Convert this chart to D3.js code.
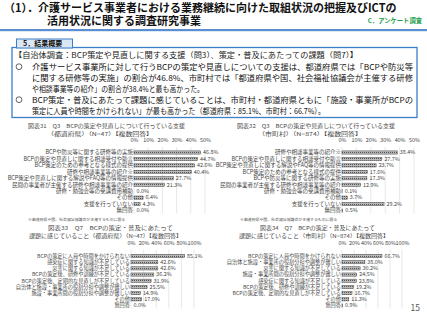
<!DOCTYPE html>
<html>
<head>
<meta charset="utf-8">
<script src="https://cdn.jsdelivr.net/npm/d3@7"></script>
<style>
  html, body { margin: 0; padding: 0; background: #fff; }
  svg { display: block; font-family: "Noto Sans CJK JP", "Noto Sans", sans-serif; }
</style>
</head>
<body>
<svg id="slide" width="427" height="320"></svg>
<script>
// Q3 support given (prefectures, N=47)
var q3PrefCats = [
  "BCPや防災等に関する研修等の実施",
  "BCPの策定や見直しに関する相談受付や助言",
  "BCP策定のための参考となる様式の提供",
  "研修や相談事業等の紹介※",
  "BCP策定や見直しに関する解説やFAQ等の情報提供",
  "民間の事業者が主催する研修や相談事業等の紹介",
  "研修・勉強会等の受講費用補助",
  "その他",
  "支援を行っていない",
  "無回答"
];
var q3PrefVals = [46.8, 44.7, 42.6, 40.4, 27.7, 21.3, 0.0, 6.4, 4.3, 0.0];

// Q3 support given (municipalities, N=874)
var q3CityCats = [
  "研修や相談事業等の紹介※",
  "BCPの策定や見直しに関する相談受付や助言",
  "BCP策定や見直しに関する解説やFAQ等の情報提供",
  "BCP策定のための参考となる様式の提供",
  "BCPや防災等に関する研修等の実施",
  "民間の事業者が主催する研修や相談事業等の紹介",
  "研修・勉強会等の受講費用補助",
  "その他",
  "支援を行っていない",
  "無回答"
];
var q3CityVals = [38.4, 27.7, 23.7, 17.6, 17.3, 12.9, 0.1, 3.7, 29.2, 0.5];

// Q7 issues (prefectures, N=47)
var q7PrefCats = [
  "BCPの策定に人員や時間をかけられない",
  "感染症に関する知識が不足している",
  "災害に関する知識が不足している",
  "BCPの策定後、研修や訓練が不足している",
  "BCPの策定後、定期的な見直しが不足している",
  "自治体と施設・事業所の役割分担や調整が難しい",
  "施設・事業所間の役割分担や調整が難しい",
  "その他",
  "無回答"
];
var q7PrefVals = [85.1, 42.6, 42.6, 36.2, 31.9, 25.5, 14.9, 17.0, 0.0];

// Q7 issues (municipalities, N=874)
var q7CityCats = [
  "BCPの策定に人員や時間をかけられない",
  "自治体と施設・事業所の役割分担や調整が難しい",
  "災害に関する知識が不足している",
  "施設・事業所間の役割分担や調整が難しい",
  "感染症に関する知識が不足している",
  "BCPの策定後、研修や訓練が不足している",
  "BCPの策定後、定期的な見直しが不足している",
  "その他",
  "無回答"
];
var q7CityVals = [66.7, 38.0, 30.2, 24.5, 23.8, 19.2, 16.7, 11.3, 0.9];

var q3Ticks = [0, 10, 20, 30, 40, 50];
var q7Ticks = [0, 20, 40, 60, 80, 100];

var summaryLines = [
  "介護サービス事業所に対して行うBCPの策定や見直しについての支援は、都道府県では「BCPや防災等",
  "に関する研修等の実施」の割合が46.8%、市町村では「都道府県や国、社会福祉協議会が主催する研修",
  "や相談事業等の紹介」の割合が38.4%と最も高かった。",
  "BCP策定・普及にあたって課題に感じていることは、市町村・都道府県ともに「施設・事業所がBCPの",
  "策定に人員や時間をかけられない」が最も高かった（都道府県：85.1%、市町村：66.7%）。"
];

(function () {
  'use strict';
  var svg = d3.select('#slide');

  // header
  svg.append('text').attr('x', 4).attr('y', 12)
    .attr('font-size', 11).attr('font-weight', 'bold').attr('fill', '#111')
    .text('（1）．介護サービス事業者における業務継続に向けた取組状況の把握及びICTの');
  svg.append('text').attr('x', 47).attr('y', 24.5)
    .attr('font-size', 11).attr('font-weight', 'bold').attr('fill', '#111')
    .text('活用状況に関する調査研究事業');
  svg.append('text').attr('x', 422).attr('y', 23).attr('text-anchor', 'end')
    .attr('font-size', 6.3).attr('font-weight', 'bold').attr('fill', '#1e9e4a')
    .text('C．アンケート調査');
  svg.append('rect').attr('x', 0).attr('y', 29).attr('width', 427).attr('height', 2.2)
    .attr('fill', '#5b8fd0');

  // summary box
  svg.append('rect').attr('x', 12).attr('y', 47.5).attr('width', 405).attr('height', 70)
    .attr('fill', '#fff').attr('stroke', '#3a7fc8').attr('stroke-width', 1.3);
  svg.append('rect').attr('x', 16.5).attr('y', 39).attr('width', 56).attr('height', 9)
    .attr('fill', '#dbe6f4').attr('stroke', '#3a7fc8').attr('stroke-width', 1);
  svg.append('text').attr('x', 23).attr('y', 46.3)
    .attr('font-size', 7).attr('font-weight', 'bold').attr('fill', '#111')
    .text('5．結果概要');

  svg.append('text').attr('x', 14).attr('y', 57.5)
    .attr('font-size', 7.6).attr('fill', '#222')
    .attr('textLength', 344).attr('lengthAdjust', 'spacingAndGlyphs')
    .text('【自治体調査：BCP策定や見直しに関する支援（問3）、策定・普及にあたっての課題（問7）】');

  var lineY = [69.5, 80.5, 91.5, 102.5, 113.5];
  var lineW = [381, 381, 172, 381, 293];
  summaryLines.forEach(function (t, i) {
    svg.append('text').attr('x', 32).attr('y', lineY[i])
      .attr('font-size', 8).attr('fill', '#111')
      .attr('textLength', lineW[i]).attr('lengthAdjust', 'spacingAndGlyphs')
      .text(t);
  });
  [0, 3].forEach(function (i) {
    svg.append('circle').attr('cx', 19).attr('cy', lineY[i] - 2.8).attr('r', 2.9)
      .attr('fill', 'none').attr('stroke', '#222').attr('stroke-width', 0.7);
  });

  // chart captions
  function caption(x, y, t, w) {
    svg.append('text').attr('x', x).attr('y', y)
      .attr('font-size', 5.2).attr('fill', '#444')
      .attr('textLength', w).attr('lengthAdjust', 'spacingAndGlyphs')
      .text(t);
  }
  caption(28, 127.5, '図表31　Q3　BCPの策定や見直しについて行っている支援', 157);
  caption(47, 135.5, '（都道府県）（N=47）【複数回答】', 106);
  caption(237, 127.5, '図表32　Q3　BCPの策定や見直しについて行っている支援', 158);
  caption(258, 135.5, '（市町村）（N=874）【複数回答】', 104);
  caption(48, 230, '図表33　Q7　BCPの策定・普及にあたって', 125);
  caption(29, 238, '課題に感じていること（都道府県）（N=47）【複数回答】', 153);
  caption(260, 230, '図表34　Q7　BCPの策定・普及にあたって', 115);
  caption(239, 238, '課題に感じていること（市町村）（N=874）【複数回答】', 150);

  svg.append('text').attr('x', 28).attr('y', 220.5)
    .attr('font-size', 3.9).attr('fill', '#555')
    .text('※都道府県や国、社会福祉協議会が主催するものに限る');
  svg.append('text').attr('x', 240).attr('y', 220.5)
    .attr('font-size', 3.9).attr('fill', '#555')
    .text('※都道府県や国、社会福祉協議会が主催するものに限る');

  // bar charts
  function barChart(opt) {
    var g = svg.append('g');
    var x = d3.scaleLinear().domain([0, opt.max]).range([opt.x0, opt.x1]);
    var y = d3.scalePoint().domain(opt.cats).range([opt.yFirst, opt.yLast]);

    g.selectAll('line.grid').data(opt.ticks).enter().append('line')
      .attr('class', 'grid')
      .attr('x1', function (d) { return x(d); }).attr('x2', function (d) { return x(d); })
      .attr('y1', opt.gridTop).attr('y2', opt.yLast + 3)
      .attr('stroke', '#d9d9d9').attr('stroke-width', 0.6);

    var axis = d3.axisTop(x).tickValues(opt.ticks).tickSize(0)
      .tickFormat(function (d) { return d + '%'; });
    var ax = g.append('g').attr('transform', 'translate(0,' + opt.tickY + ')').call(axis);
    ax.select('.domain').remove();
    ax.selectAll('text').attr('font-size', 5.4).attr('fill', '#444')
      .attr('font-family', '"Noto Sans CJK JP", sans-serif').attr('dy', 0);

    g.selectAll('rect.bar').data(opt.vals).enter().append('rect')
      .attr('class', 'bar')
      .attr('x', opt.x0)
      .attr('y', function (d, i) { return y(opt.cats[i]) - 1.6; })
      .attr('width', function (d) { return x(d) - opt.x0; })
      .attr('height', 3.2)
      .attr('fill', 'url(#hatch)').attr('stroke', '#4a4a4a').attr('stroke-width', 0.5);

    g.selectAll('text.cat').data(opt.cats).enter().append('text')
      .attr('class', 'cat')
      .attr('x', opt.x0 - 1).attr('y', function (d) { return y(d) + 1.8; })
      .attr('text-anchor', 'end').attr('font-size', opt.catSize).attr('fill', '#444')
      .text(function (d) { return d; });

    g.selectAll('text.val').data(opt.vals).enter().append('text')
      .attr('class', 'val')
      .attr('x', function (d) { return x(d) + 2.5; })
      .attr('y', function (d, i) { return y(opt.cats[i]) + 1.8; })
      .attr('font-size', 5.4).attr('fill', '#444')
      .text(function (d) { return d.toFixed(1) + '%'; });
  }

  var defs = svg.append('defs');
  var pat = defs.append('pattern').attr('id', 'hatch')
    .attr('patternUnits', 'userSpaceOnUse').attr('width', 2).attr('height', 2);
  pat.append('rect').attr('width', 2).attr('height', 2).attr('fill', '#b8b8b8');
  pat.append('rect').attr('width', 1).attr('height', 1).attr('fill', '#555');

  barChart({ cats: q3PrefCats, vals: q3PrefVals, ticks: q3Ticks, max: 50,
    x0: 134, x1: 205, yFirst: 152.5, yLast: 210.5, tickY: 145, gridTop: 147, catSize: 5.5 });
  barChart({ cats: q3CityCats, vals: q3CityVals, ticks: q3Ticks, max: 50,
    x0: 342, x1: 414, yFirst: 152.5, yLast: 210.5, tickY: 145, gridTop: 147, catSize: 5.5 });
  barChart({ cats: q7PrefCats, vals: q7PrefVals, ticks: q7Ticks, max: 100,
    x0: 131, x1: 194, yFirst: 256, yLast: 305.5, tickY: 247.5, gridTop: 249.5, catSize: 5.2 });
  barChart({ cats: q7CityCats, vals: q7CityVals, ticks: q7Ticks, max: 100,
    x0: 342, x1: 402, yFirst: 256, yLast: 305.5, tickY: 247.5, gridTop: 249.5, catSize: 5.2 });

  svg.append('text').attr('x', 420).attr('y', 311).attr('text-anchor', 'end')
    .attr('font-size', 8.5).attr('fill', '#555').text('15');
})();
</script>
</body>
</html>
